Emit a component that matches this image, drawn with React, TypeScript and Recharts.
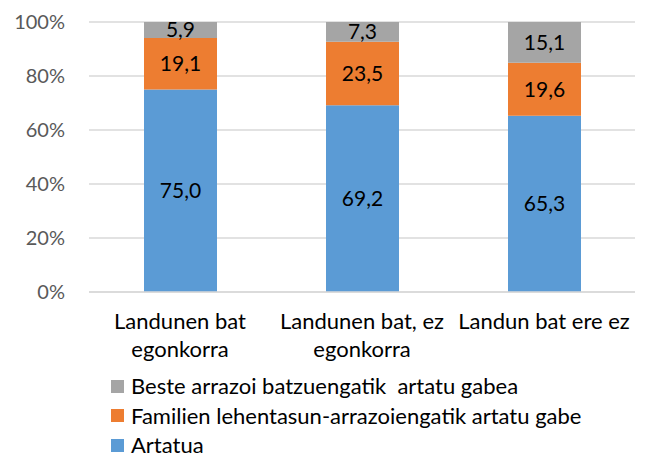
import React from 'react';
import { BarChart, Bar, XAxis, YAxis, CartesianGrid, Legend, LabelList } from 'recharts';

const categories = ['Landunen bat\negonkorra', 'Landunen bat, ez\negonkorra', 'Landun bat ere ez'];
const artatua = [75.0, 69.2, 65.3];
const familien = [19.1, 23.5, 19.6];
const beste = [5.9, 7.3, 15.1];
const yTicks = [0, 20, 40, 60, 80, 100];

const seriesNames = {
  artatua: 'Artatua',
  familien: 'Familien lehentasun-arrazoiengatik artatu gabe',
  beste: 'Beste arrazoi batzuengatik  artatu gabea',
};
const legendOrder = [seriesNames.beste, seriesNames.familien, seriesNames.artatua];

const data = categories.map((c, i) => ({
  category: c,
  artatua: artatua[i],
  familien: familien[i],
  beste: beste[i],
}));

const FONT = 'Lato, "Noto Sans", sans-serif';

const fmt = (v: any) => Number(v).toFixed(1).replace('.', ',');

const XTick = (props: any) => {
  const { x, y, payload } = props;
  const lines = String(payload.value).split('\n');
  return (
    <text x={x} y={y} textAnchor="middle" fontFamily={FONT} fontSize={22} fill="#000">
      {lines.map((l: string, i: number) => (
        <tspan key={i} x={x} dy={i === 0 ? 29 : 28}>{l}</tspan>
      ))}
    </text>
  );
};

const LegendContent = (props: any) => {
  const items = [...(props.payload || [])].sort(
    (a: any, b: any) => legendOrder.indexOf(a.value) - legendOrder.indexOf(b.value)
  );
  return (
    <div style={{ fontFamily: FONT, fontSize: 22, color: '#000', lineHeight: '20px' }}>
      {items.map((it: any, i: number) => (
        <div key={i} style={{ display: 'flex', alignItems: 'center', height: 20, marginBottom: i < items.length - 1 ? 9.5 : 0, whiteSpace: 'pre' }}>
          <span style={{ display: 'inline-block', width: 13, height: 13, background: it.color, marginRight: 7 }} />
          <span>{it.value}</span>
        </div>
      ))}
    </div>
  );
};

export default function App() {
  return (
    <div style={{ position: 'absolute', left: 0, top: 0, width: 651, height: 460, background: '#fff', overflow: 'hidden' }}>
      <BarChart
        width={651}
        height={460}
        data={data}
        margin={{ top: 22, right: 16, left: 0, bottom: 108 }}
        barSize={73}
      >
        <CartesianGrid vertical={false} stroke="#D9D9D9" strokeWidth={1.5} />
        <XAxis
          dataKey="category"
          tick={<XTick />}
          tickLine={false}
          axisLine={{ stroke: '#D9D9D9', strokeWidth: 1.5 }}
          height={60}
          interval={0}
        />
        <YAxis
          domain={[0, 100]}
          ticks={yTicks}
          tickFormatter={(v: any) => `${v}%`}
          tickLine={false}
          axisLine={false}
          width={89}
          tickSize={6}
          tickMargin={18}
          tick={{ fill: '#595959', fontSize: 20, fontFamily: FONT }}
          allowDataOverflow
        />
        <Legend
          layout="vertical"
          verticalAlign="middle"
          align="center"
          content={<LegendContent />}
          wrapperStyle={{ position: 'absolute', left: 111, top: 376, width: 540, height: 80 }}
        />
        <Bar dataKey="artatua" name={seriesNames.artatua} stackId="a" fill="#5B9BD5" isAnimationActive={false}>
          <LabelList dataKey="artatua" position="center" formatter={fmt} fill="#000" fontSize={21} fontFamily={FONT} />
        </Bar>
        <Bar dataKey="familien" name={seriesNames.familien} stackId="a" fill="#ED7D31" isAnimationActive={false}>
          <LabelList dataKey="familien" position="center" formatter={fmt} fill="#000" fontSize={21} fontFamily={FONT} />
        </Bar>
        <Bar dataKey="beste" name={seriesNames.beste} stackId="a" fill="#A5A5A5" isAnimationActive={false}>
          <LabelList dataKey="beste" position="center" formatter={fmt} fill="#000" fontSize={21} fontFamily={FONT} />
        </Bar>
      </BarChart>
    </div>
  );
}
